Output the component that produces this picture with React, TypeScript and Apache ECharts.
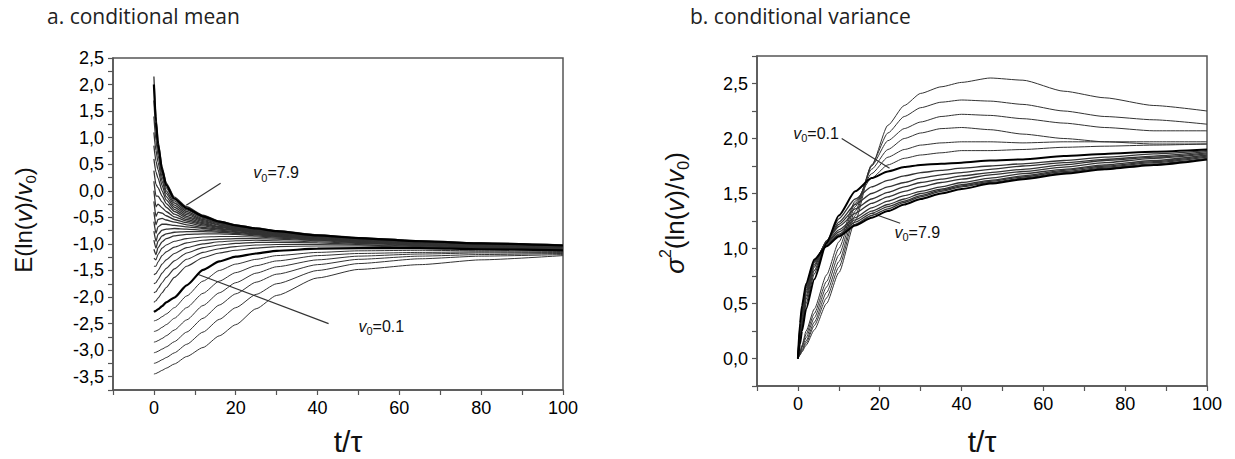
import React, { useEffect, useRef } from 'react';
import * as echarts from 'echarts';

// ---------- Panel a: conditional mean ----------
const T_MEAN = [0, 0.5, 1, 2, 3, 5, 8, 12, 16, 20, 25, 30, 40, 50, 65, 80, 100];

const meanUpper: number[][] = [
  [2.15, 1.4, 0.95, 0.45, 0.15, -0.12, -0.3, -0.46, -0.57, -0.64, -0.7, -0.75, -0.83, -0.88, -0.94, -0.98, -1.02],
  [1.7, 1.12, 0.78, 0.33, 0.06, -0.19, -0.36, -0.5, -0.6, -0.66, -0.72, -0.77, -0.85, -0.9, -0.95, -0.99, -1.03],
  [1.4, 0.95, 0.67, 0.26, 0.0, -0.23, -0.39, -0.52, -0.61, -0.67, -0.73, -0.78, -0.85, -0.9, -0.96, -1.0, -1.04],
  [1.1, 0.76, 0.54, 0.18, -0.05, -0.27, -0.42, -0.54, -0.62, -0.68, -0.74, -0.79, -0.86, -0.91, -0.96, -1.0, -1.04],
  [0.85, 0.56, 0.4, 0.1, -0.11, -0.31, -0.45, -0.56, -0.64, -0.69, -0.75, -0.8, -0.86, -0.91, -0.97, -1.01, -1.05],
  [0.6, 0.35, 0.24, 0.0, -0.17, -0.35, -0.48, -0.58, -0.65, -0.7, -0.76, -0.8, -0.87, -0.92, -0.97, -1.01, -1.05],
  [0.38, 0.12, 0.06, -0.1, -0.24, -0.39, -0.51, -0.6, -0.67, -0.71, -0.77, -0.81, -0.87, -0.92, -0.98, -1.02, -1.06],
  [0.18, -0.1, -0.1, -0.21, -0.31, -0.44, -0.54, -0.62, -0.68, -0.72, -0.78, -0.82, -0.88, -0.93, -0.98, -1.02, -1.06],
  [0.0, -0.3, -0.25, -0.32, -0.39, -0.49, -0.57, -0.64, -0.69, -0.73, -0.78, -0.82, -0.88, -0.93, -0.99, -1.03, -1.07],
  [-0.2, -0.48, -0.4, -0.42, -0.47, -0.54, -0.6, -0.66, -0.71, -0.74, -0.79, -0.83, -0.89, -0.94, -0.99, -1.03, -1.07],
  [-0.4, -0.64, -0.54, -0.52, -0.55, -0.59, -0.64, -0.69, -0.72, -0.75, -0.8, -0.84, -0.89, -0.94, -0.99, -1.04, -1.08],
  [-0.58, -0.8, -0.68, -0.63, -0.63, -0.65, -0.68, -0.71, -0.74, -0.77, -0.81, -0.85, -0.9, -0.95, -1.0, -1.04, -1.08],
  [-0.76, -0.95, -0.82, -0.74, -0.72, -0.71, -0.72, -0.74, -0.76, -0.78, -0.82, -0.85, -0.9, -0.95, -1.0, -1.04, -1.08],
  [-0.93, -1.08, -0.95, -0.85, -0.81, -0.78, -0.77, -0.77, -0.78, -0.8, -0.83, -0.86, -0.91, -0.96, -1.01, -1.05, -1.09],
  [-1.1, -1.2, -1.07, -0.96, -0.9, -0.85, -0.82, -0.81, -0.81, -0.82, -0.85, -0.87, -0.92, -0.96, -1.01, -1.05, -1.09],
];

const meanV0High = [2.0, 1.3, 0.88, 0.4, 0.11, -0.15, -0.33, -0.48, -0.58, -0.65, -0.71, -0.76, -0.84, -0.89, -0.95, -0.99, -1.03];

const meanMid: number[][] = [
  [-1.27, -1.3, -1.2, -1.08, -1.02, -0.95, -0.9, -0.87, -0.86, -0.86, -0.87, -0.89, -0.93, -0.97, -1.02, -1.05, -1.09],
  [-1.42, -1.42, -1.34, -1.22, -1.15, -1.06, -0.98, -0.93, -0.91, -0.9, -0.9, -0.91, -0.94, -0.98, -1.02, -1.06, -1.09],
  [-1.58, -1.56, -1.5, -1.38, -1.3, -1.18, -1.07, -1.0, -0.96, -0.94, -0.93, -0.94, -0.96, -0.99, -1.03, -1.06, -1.09],
  [-1.75, -1.73, -1.67, -1.55, -1.46, -1.32, -1.17, -1.07, -1.02, -0.99, -0.97, -0.97, -0.98, -1.01, -1.04, -1.07, -1.1],
  [-1.92, -1.9, -1.84, -1.73, -1.63, -1.47, -1.29, -1.16, -1.09, -1.05, -1.02, -1.01, -1.01, -1.02, -1.05, -1.08, -1.1],
  [-2.1, -2.07, -2.02, -1.92, -1.82, -1.63, -1.42, -1.26, -1.17, -1.12, -1.08, -1.05, -1.04, -1.04, -1.06, -1.08, -1.11],
];

const meanV0Low = [-2.28, -2.26, -2.23, -2.17, -2.1, -2.01, -1.78, -1.49, -1.33, -1.24, -1.18, -1.13, -1.09, -1.08, -1.08, -1.1, -1.12];

const meanLower: number[][] = [
  [-2.45, -2.44, -2.42, -2.37, -2.32, -2.2, -1.98, -1.7, -1.5, -1.38, -1.29, -1.22, -1.16, -1.13, -1.12, -1.13, -1.14],
  [-2.65, -2.64, -2.62, -2.57, -2.52, -2.4, -2.2, -1.93, -1.7, -1.54, -1.41, -1.32, -1.22, -1.18, -1.16, -1.15, -1.16],
  [-2.85, -2.84, -2.82, -2.78, -2.73, -2.62, -2.43, -2.16, -1.92, -1.73, -1.55, -1.43, -1.3, -1.23, -1.19, -1.17, -1.17],
  [-3.05, -3.04, -3.02, -2.98, -2.94, -2.84, -2.66, -2.4, -2.15, -1.94, -1.72, -1.57, -1.39, -1.29, -1.23, -1.2, -1.18],
  [-3.25, -3.24, -3.22, -3.18, -3.14, -3.05, -2.89, -2.66, -2.42, -2.2, -1.95, -1.75, -1.5, -1.37, -1.28, -1.23, -1.2],
  [-3.45, -3.44, -3.42, -3.38, -3.34, -3.26, -3.12, -2.95, -2.73, -2.52, -2.22, -1.97, -1.64, -1.48, -1.39, -1.3, -1.22],
];

// ---------- Panel b: conditional variance ----------
const T_VAR = [0, 0.5, 1, 2, 4, 7, 10, 14, 18, 22, 26, 30, 35, 40, 47, 55, 65, 75, 87, 100];

const varUpper: number[][] = [
  [0, 0.03, 0.06, 0.12, 0.26, 0.5, 0.78, 1.25, 1.75, 2.12, 2.3, 2.41, 2.47, 2.51, 2.55, 2.53, 2.43, 2.37, 2.3, 2.25],
  [0, 0.035, 0.07, 0.14, 0.3, 0.55, 0.83, 1.3, 1.76, 2.05, 2.2, 2.28, 2.33, 2.35, 2.34, 2.31, 2.25, 2.2, 2.17, 2.13],
  [0, 0.04, 0.08, 0.16, 0.33, 0.6, 0.88, 1.34, 1.75, 1.98, 2.09, 2.15, 2.2, 2.22, 2.21, 2.18, 2.14, 2.1, 2.07, 2.07],
  [0, 0.05, 0.1, 0.19, 0.37, 0.65, 0.94, 1.38, 1.72, 1.9, 2.0, 2.05, 2.09, 2.1, 2.08, 2.04, 2.0, 1.97, 1.95, 1.95],
  [0, 0.055, 0.11, 0.22, 0.41, 0.7, 1.0, 1.41, 1.68, 1.83, 1.9, 1.94, 1.96, 1.97, 1.97, 1.96, 1.97, 1.97, 1.97, 1.97],
  [0, 0.06, 0.12, 0.25, 0.45, 0.76, 1.06, 1.43, 1.64, 1.76, 1.82, 1.85, 1.87, 1.89, 1.89, 1.9, 1.92, 1.93, 1.94, 1.95],
];

const varV0Low = [0, 0.13, 0.25, 0.45, 0.72, 1.05, 1.3, 1.52, 1.64, 1.7, 1.74, 1.76, 1.77, 1.78, 1.8, 1.81, 1.84, 1.86, 1.88, 1.9];

const varMid: number[][] = [
  [0, 0.15, 0.28, 0.5, 0.77, 1.06, 1.27, 1.45, 1.56, 1.62, 1.66, 1.69, 1.71, 1.73, 1.75, 1.77, 1.8, 1.83, 1.86, 1.89],
  [0, 0.17, 0.31, 0.54, 0.8, 1.06, 1.24, 1.4, 1.5, 1.56, 1.6, 1.64, 1.67, 1.69, 1.72, 1.75, 1.78, 1.81, 1.84, 1.88],
  [0, 0.19, 0.34, 0.57, 0.83, 1.07, 1.22, 1.36, 1.45, 1.51, 1.56, 1.6, 1.63, 1.66, 1.69, 1.72, 1.76, 1.8, 1.83, 1.87],
  [0, 0.21, 0.37, 0.6, 0.85, 1.07, 1.2, 1.32, 1.41, 1.47, 1.52, 1.56, 1.6, 1.63, 1.67, 1.7, 1.74, 1.78, 1.82, 1.86],
  [0, 0.24, 0.4, 0.62, 0.87, 1.06, 1.17, 1.28, 1.37, 1.43, 1.48, 1.52, 1.56, 1.6, 1.64, 1.68, 1.72, 1.76, 1.8, 1.85],
  [0, 0.26, 0.42, 0.64, 0.88, 1.05, 1.15, 1.26, 1.34, 1.4, 1.45, 1.5, 1.54, 1.58, 1.62, 1.66, 1.71, 1.75, 1.79, 1.84],
  [0, 0.28, 0.44, 0.66, 0.89, 1.04, 1.13, 1.24, 1.32, 1.38, 1.43, 1.48, 1.53, 1.57, 1.61, 1.65, 1.7, 1.74, 1.78, 1.83],
  [0, 0.3, 0.46, 0.67, 0.89, 1.03, 1.12, 1.22, 1.3, 1.36, 1.42, 1.47, 1.52, 1.56, 1.6, 1.64, 1.69, 1.73, 1.77, 1.82],
];

const varV0High = [0, 0.32, 0.48, 0.68, 0.9, 1.02, 1.11, 1.21, 1.28, 1.34, 1.4, 1.45, 1.5, 1.54, 1.59, 1.63, 1.68, 1.72, 1.76, 1.81];

// ---------- texts ----------
const TITLE_A = 'a. conditional mean';
const TITLE_B = 'b. conditional variance';
const X_NAME = 't/τ';
const LABEL_HIGH = '=7.9';
const LABEL_LOW = '=0.1';

const AX = '"Liberation Sans", Arial, sans-serif';
const THIN = '#333333';
const THICK = '#000000';

let measureCtx: CanvasRenderingContext2D | null = null;
function tw(text: string, font: string): number {
  if (!measureCtx) measureCtx = document.createElement('canvas').getContext('2d');
  measureCtx!.font = font;
  return measureCtx!.measureText(text).width;
}

type Piece = { t: string; size: number; italic?: boolean; dy?: number };
function rich(parts: Piece[], fill: string, center: boolean) {
  let x = 0;
  const children: any[] = [];
  for (const p of parts) {
    const font = `${p.italic ? 'italic ' : ''}normal ${p.size}px ${AX}`;
    children.push({
      type: 'text', x, y: p.dy || 0,
      style: { text: p.t, font, fill, textAlign: 'left', textVerticalAlign: 'middle' },
    });
    x += tw(p.t, font);
  }
  return { type: 'group', x: center ? -x / 2 : 0, y: 0, children };
}

function mkSeries(T: number[], vals: number[], xi: number, color: string, width: number) {
  return {
    type: 'line', xAxisIndex: xi, yAxisIndex: xi, showSymbol: false, symbol: 'none',
    smooth: 0.2, smoothMonotone: 'x', silent: true,
    lineStyle: { color, width },
    data: T.map((t, i) => [t, vals[i]]),
  };
}

const fmt = (v: number) => {
  if (Math.abs(v * 2 - Math.round(v * 2)) > 1e-6) return '';
  return v.toFixed(1).replace('.', ',');
};

export default function App() {
  const ref = useRef<HTMLDivElement>(null);
  useEffect(() => {
    const chart = echarts.init(ref.current!, undefined, { renderer: 'svg' });
    const xAxisBase = (gi: number) => ({
      type: 'value', gridIndex: gi, min: -10, max: 100, interval: 10,
      axisLine: { show: true, onZero: false, lineStyle: { color: '#555', width: 1.5 } },
      axisTick: { show: true, inside: false, length: 5, lineStyle: { color: '#555', width: 1.2 } },
      axisLabel: {
        margin: 9, color: '#000', fontSize: 18, fontFamily: AX,
        formatter: (v: number) => (v % 20 === 0 ? String(v) : ''),
      },
      splitLine: { show: false },
    });
    const yAxisBase = (gi: number, min: number, max: number) => ({
      type: 'value', gridIndex: gi, min, max, interval: 0.25,
      axisLine: { show: true, onZero: false, lineStyle: { color: '#555', width: 1.5 } },
      axisTick: { show: true, inside: false, length: 5, lineStyle: { color: '#555', width: 1.2 } },
      axisLabel: { margin: 9, color: '#000', fontSize: 18, fontFamily: AX, formatter: fmt },
      splitLine: { show: false },
    });
    const series: any[] = [];
    meanLower.forEach((a) => series.push(mkSeries(T_MEAN, a, 0, THIN, 1)));
    meanMid.forEach((a) => series.push(mkSeries(T_MEAN, a, 0, THIN, 1.1)));
    meanUpper.forEach((a) => series.push(mkSeries(T_MEAN, a, 0, THIN, 1.3)));
    series.push(mkSeries(T_MEAN, meanV0High, 0, THICK, 2.2));
    series.push(mkSeries(T_MEAN, meanV0Low, 0, THICK, 2.2));
    varUpper.forEach((a) => series.push(mkSeries(T_VAR, a, 1, THIN, 1)));
    varMid.forEach((a) => series.push(mkSeries(T_VAR, a, 1, THIN, 1.3)));
    series.push(mkSeries(T_VAR, varV0High, 1, THICK, 2));
    series.push(mkSeries(T_VAR, varV0Low, 1, THICK, 2));

    chart.setOption({
      animation: false,
      backgroundColor: '#fff',
      grid: [
        { left: 113, top: 58, width: 450, height: 332, show: true, borderColor: '#555', borderWidth: 1.5, containLabel: false },
        { left: 757, top: 56, width: 450, height: 330, show: true, borderColor: '#555', borderWidth: 1.5, containLabel: false },
      ],
      xAxis: [xAxisBase(0), xAxisBase(1)],
      yAxis: [yAxisBase(0, -3.75, 2.5), yAxisBase(1, -0.25, 2.75)],
      series,
    });

    const P = (gi: number, t: number, v: number) => chart.convertToPixel({ gridIndex: gi } as any, [t, v]) as number[];
    const seg = (gi: number, a: number[], b: number[]) => {
      const p1 = P(gi, a[0], a[1]);
      const p2 = P(gi, b[0], b[1]);
      return { type: 'line', shape: { x1: p1[0], y1: p1[1], x2: p2[0], y2: p2[1] }, style: { stroke: '#333', lineWidth: 1.2 } };
    };
    const v0Label = (gi: number, at: number[], txt: string) => {
      const p = P(gi, at[0], at[1]);
      const g: any = rich([
        { t: 'v', size: 16, italic: true },
        { t: '0', size: 11, dy: 5 },
        { t: txt, size: 16 },
      ], '#111', false);
      return { type: 'group', x: p[0], y: p[1], children: [g] };
    };
    const yName = (cx: number, cy: number, parts: Piece[]) => ({
      type: 'group', x: cx, y: cy, rotation: Math.PI / 2, children: [rich(parts, '#111', true)],
    });

    chart.setOption({
      graphic: [
        { type: 'text', x: 47, y: 16, style: { text: TITLE_A, font: 'normal 21px "Open Sans", sans-serif', fill: '#222', textVerticalAlign: 'middle' } },
        { type: 'text', x: 690, y: 16, style: { text: TITLE_B, font: 'normal 21px "Open Sans", sans-serif', fill: '#222', textVerticalAlign: 'middle' } },
        { type: 'text', x: 348, y: 441, style: { text: X_NAME, font: `normal 30px ${AX}`, fill: '#111', textAlign: 'center', textVerticalAlign: 'middle' } },
        { type: 'text', x: 982, y: 441, style: { text: X_NAME, font: `normal 30px ${AX}`, fill: '#111', textAlign: 'center', textVerticalAlign: 'middle' } },
        yName(23, 220, [
          { t: 'E(ln(', size: 24 }, { t: 'v', size: 24, italic: true }, { t: ')/', size: 24 },
          { t: 'v', size: 24, italic: true }, { t: '0', size: 15, dy: 7 }, { t: ')', size: 24 },
        ]),
        yName(675, 213, [
          { t: 'σ', size: 26, italic: true }, { t: '2', size: 16, dy: -10 }, { t: '(ln(', size: 26 },
          { t: 'v', size: 26, italic: true }, { t: ')/', size: 26 },
          { t: 'v', size: 26, italic: true }, { t: '0', size: 16, dy: 8 }, { t: ')', size: 26 },
        ]),
        seg(0, [7.9, -0.27], [16.3, 0.14]),
        v0Label(0, [24.3, 0.34], LABEL_HIGH),
        seg(0, [10.7, -1.57], [42.7, -2.5]),
        v0Label(0, [50, -2.55], LABEL_LOW),
        seg(1, [10.7, 2.0], [22.4, 1.73]),
        v0Label(1, [-1.15, 2.05], LABEL_LOW),
        seg(1, [18.1, 1.32], [25, 1.23]),
        v0Label(1, [23.6, 1.15], LABEL_HIGH),
      ],
    });
    return () => chart.dispose();
  }, []);
  return <div ref={ref} style={{ position: 'fixed', left: 0, top: 0, width: 1235, height: 459, background: '#fff' }} />;
}
